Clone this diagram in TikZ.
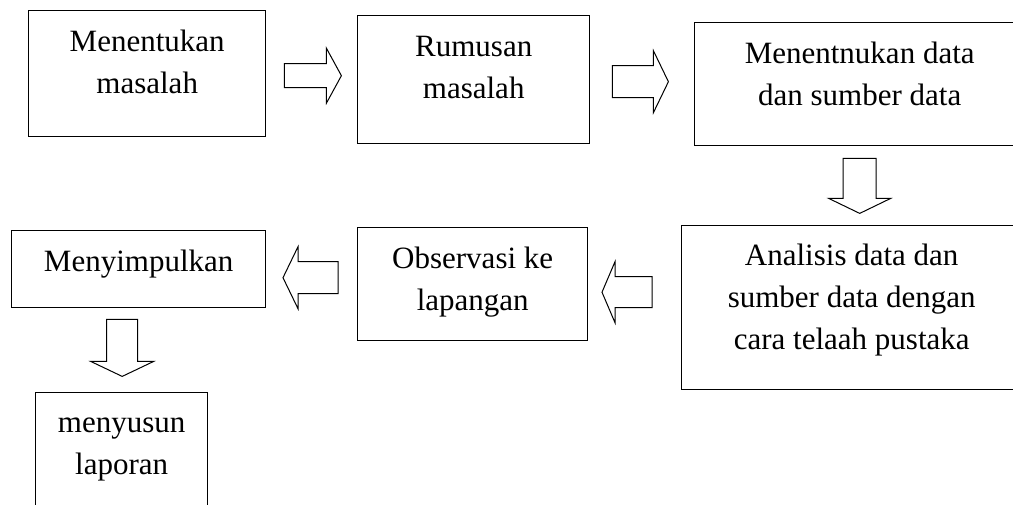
\documentclass[tikz,border=0pt]{standalone}
\usepackage{fontspec}
\setmainfont{Liberation Serif}
\usetikzlibrary{calc}
\tikzset{
  box/.style={draw, line width=1.4pt, anchor=north west, inner sep=0pt},
  lbl/.style={anchor=north, align=center, inner sep=0pt, font=\fontsize{31}{42}\selectfont},
  blk/.style={draw, line width=1pt, line join=miter, fill=white},
}
% #1 tail coordinate, #2 length, #3 shaft half width, #4 head half width, #5 head length
\newcommand\arrR[5]{\draw[blk, shift={(#1)}] (0,-#3) -- (#2-#5,-#3) -- (#2-#5,-#4) -- (#2,0) -- (#2-#5,#4) -- (#2-#5,#3) -- (0,#3) -- cycle;}
\newcommand\arrL[5]{\draw[blk, shift={(#1)}, xscale=-1] (0,-#3) -- (#2-#5,-#3) -- (#2-#5,-#4) -- (#2,0) -- (#2-#5,#4) -- (#2-#5,#3) -- (0,#3) -- cycle;}
\newcommand\arrD[5]{\draw[blk, shift={(#1)}] (-#3,0) -- (-#3,#2-#5) -- (-#4,#2-#5) -- (0,#2) -- (#4,#2-#5) -- (#3,#2-#5) -- (#3,0) -- cycle;}
\begin{document}
\begin{tikzpicture}[x=1pt, y=-1pt]
  \useasboundingbox (0,0) rectangle (1013,505);
  \clip (0,0) rectangle (1013,505);
  % boxes
  \node[box, minimum width=237pt, minimum height=126pt] (b1) at (28,10) {};
  \node[box, minimum width=232pt, minimum height=128pt] (b2) at (357,15) {};
  \node[box, minimum width=330pt, minimum height=123pt] (b3) at (694,22) {};
  \node[box, minimum width=340pt, minimum height=164pt] (b4) at (681,225) {};
  \node[box, minimum width=230pt, minimum height=113pt] (b5) at (357,227) {};
  \node[box, minimum width=254pt, minimum height=77pt]  (b6) at (11,230) {};
  \node[box, minimum width=172pt, minimum height=130pt] (b7) at (35,392) {};
  % texts
  \node[lbl] (t1) at ($(b1.north)+(0,12)$) {\strut Menentukan\\masalah};
  \node[lbl] (t2) at ($(b2.north)+(0,12)$) {\strut Rumusan\\masalah};
  \node[lbl] (t3) at ($(b3.north)+(0,12)$) {\strut Menentnukan data\\dan sumber data};
  \node[lbl] (t4) at ($(b4.north)+(0,11)$) {\strut Analisis data dan\\sumber data dengan\\cara telaah pustaka};
  \node[lbl] (t5) at ($(b5.north)+(0,12)$) {\strut Observasi ke\\lapangan};
  \node[lbl] (t6) at ($(b6.north)+(0,12)$) {\strut Menyimpulkan};
  \node[lbl] (t7) at ($(b7.north)+(0,11)$) {\strut menyusun\\laporan};
  % connector tails
  \coordinate (a1) at ($(b1.east)+(18,2)$);
  \coordinate (a2) at ($(b2.east)+(22,2)$);
  \coordinate (a3) at ($(b3.south)+(0,12)$);
  \coordinate (a4) at ($(b4.west)+(-29,-15.5)$);
  \coordinate (a5) at ($(b5.west)+(-19,-6.5)$);
  \coordinate (a6) at ($(b6.south)+(-16.5,11)$);
  % block arrows
  \arrR{a1}{57}{12}{27.5}{15}
  \arrR{a2}{56}{16}{31}{15}
  \arrD{a3}{55}{16.5}{31}{15}
  \arrL{a4}{50}{15.5}{30.5}{13}
  \arrL{a5}{55}{16}{31}{15}
  \arrD{a6}{57}{15.5}{31.5}{15}
\end{tikzpicture}
\end{document}
